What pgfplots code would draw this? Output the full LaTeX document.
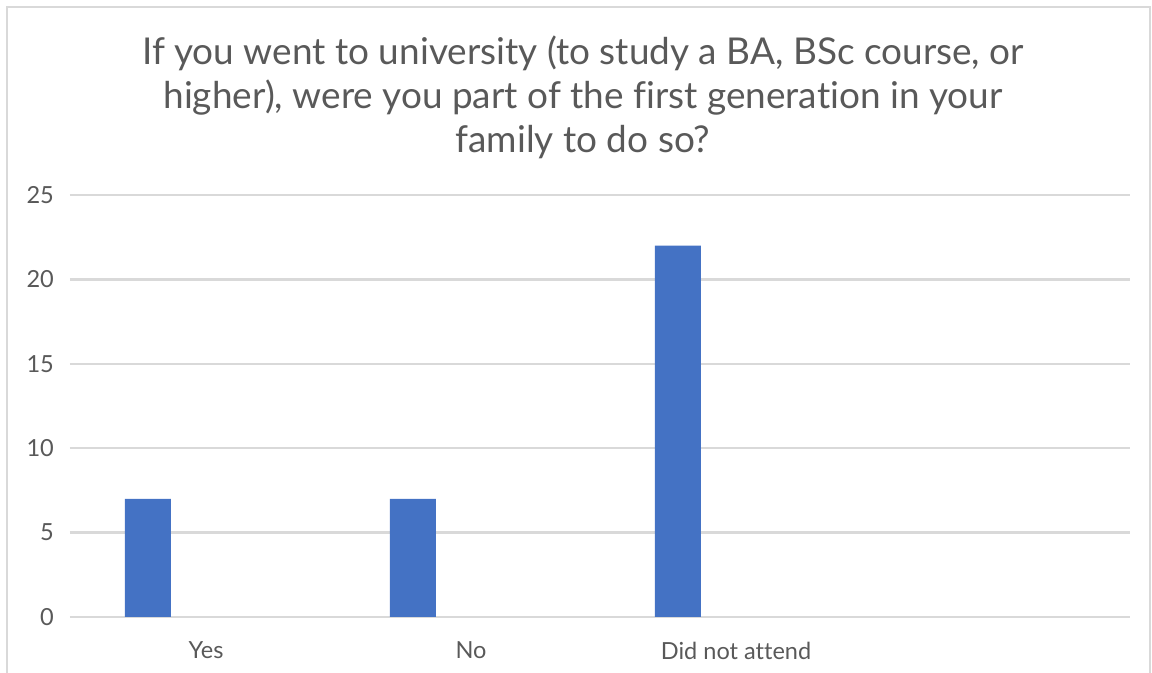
\documentclass[border=0pt]{standalone}
\usepackage{pgfplots}
\pgfplotsset{compat=1.18}
\usepackage{fontspec}
\setmainfont{Lato}[RawFeature=-liga]
\definecolor{barblue}{HTML}{4472C4}
\definecolor{gridgray}{HTML}{D9D9D9}
\definecolor{txtgray}{HTML}{595959}
\begin{document}
\begin{tikzpicture}
\begin{axis}[
    name=ax,
    scale only axis,
    width=14.722cm,
    height=5.861cm,
    ybar,
    bar width=0.639cm,
    bar shift=-0.757cm,
    xmin=-0.5, xmax=3.5,
    ymin=0, ymax=25,
    ytick={0,5,...,25},
    xtick={0,1,2,3},
    xticklabels={Yes,No,Did not attend,{}},
    axis line style={draw=none},
    major tick length=0pt,
    ymajorgrids,
    grid style={gridgray, line width=1pt},
    tick label style={font=\fontsize{9.3}{11}\selectfont, text=txtgray},
    yticklabel style={xshift=-0.1cm},
    xticklabel style={yshift=-0.22cm, xshift=0.05cm},
    /pgf/number format/assume math mode=true,
    clip=false,
  ]
  \addplot[fill=barblue, draw=none] coordinates {
    (0, 7)
    (1, 7)
    (2, 22)
  };
\end{axis}
% chart area frame and overall page size
\useasboundingbox ([xshift=-0.972cm, yshift=-0.778cm]ax.south west) rectangle ([xshift=15.028cm, yshift=8.569cm]ax.south west);
\draw[gridgray, line width=1pt] ([xshift=-0.875cm, yshift=-1.0cm]ax.south west) -- ([xshift=-0.875cm, yshift=8.472cm]ax.south west)
  -- ([xshift=15.0cm, yshift=8.472cm]ax.south west) -- ([xshift=15.0cm, yshift=-1.0cm]ax.south west);
\node[align=center, text=txtgray, font=\fontsize{14.6}{17.3}\selectfont, anchor=north]
  at ([xshift=7.125cm, yshift=8.19cm]ax.south west)
  {If you went to university (to study a BA, BSc course, or\\higher), were you part of the first generation in your\\family to do so?};
\end{tikzpicture}
\end{document}
